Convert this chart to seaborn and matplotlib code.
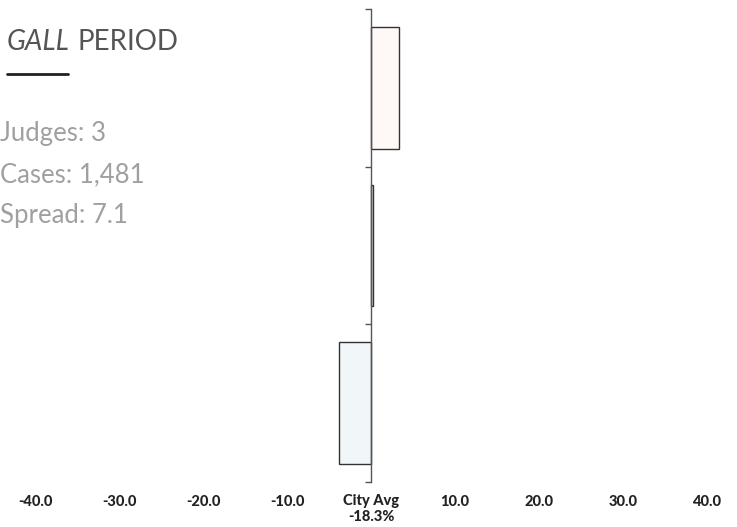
import matplotlib
matplotlib.use("Agg")
import matplotlib.pyplot as plt
from matplotlib.lines import Line2D
import seaborn as sns

# data
groups = ["Harsher", "Same", "Lenient"]
diff_vs_avg = [3.3, 0.2, -3.8]
bar_colors = ["#fff8f5", "#ffffff", "#f0f6fa"]
xtick_vals = [-40, -30, -20, -10, 0, 10, 20, 30, 40]
xtick_labels = ["-40.0", "-30.0", "-20.0", "-10.0", "City Avg\n-18.3%",
                "10.0", "20.0", "30.0", "40.0"]
title_italic = "GALL"
title_rest = "PERIOD"
stats = ["Judges: 3", "Cases: 1,481", "Spread: 7.1"]

sns.set_style("white")
plt.rcParams['font.family'] = ['Lato', 'DejaVu Sans']

fig = plt.figure(figsize=(7.37, 5.27), dpi=100)
ax = fig.add_axes([35 / 737, 1 - 482 / 527, 672 / 737, 473 / 527])

sns.barplot(x=diff_vs_avg, y=groups, hue=groups, palette=bar_colors,
            legend=False, orient="h", width=0.77, edgecolor="#333333",
            linewidth=1.0, ax=ax)

ax.set_xlim(-40, 40)
ax.set_ylim(2.5, -0.5)
ax.set_xticks(xtick_vals)
ax.set_xticklabels(xtick_labels, fontsize=10.5, fontweight="black",
                   color="#222222", linespacing=1.15, va="top")
ax.tick_params(axis="x", length=0, pad=9)
ax.set_yticks([-0.5, 0.5, 1.5, 2.5])
ax.set_yticklabels([])
ax.tick_params(axis="y", length=4, width=1, color="#555555", left=True)
ax.set_xlabel("")
ax.set_ylabel("")
for s in ["top", "right", "bottom"]:
    ax.spines[s].set_visible(False)
ax.spines["left"].set_position(("data", 0))
ax.spines["left"].set_color("#555555")
ax.spines["left"].set_linewidth(1.0)

# header block
t = fig.text(7 / 737, 1 - 42 / 527, title_italic, fontsize=20, style="italic",
             color="#555555", va="center", ha="left")
fig.canvas.draw()
bb = t.get_window_extent()
fig.text((bb.x1 + 8) / 737, 1 - 42 / 527, title_rest, fontsize=20,
         color="#555555", va="center", ha="left")
fig.add_artist(Line2D([7 / 737, 68 / 737], [1 - 74 / 527, 1 - 74 / 527],
                      color="#222222", linewidth=2))
for i, s in enumerate(stats):
    fig.text(0 / 737, 1 - (134 + i * 41) / 527, s, fontsize=18.5,
             color="#a0a0a0", va="center", ha="left")

fig.savefig("out.png", dpi=100)
